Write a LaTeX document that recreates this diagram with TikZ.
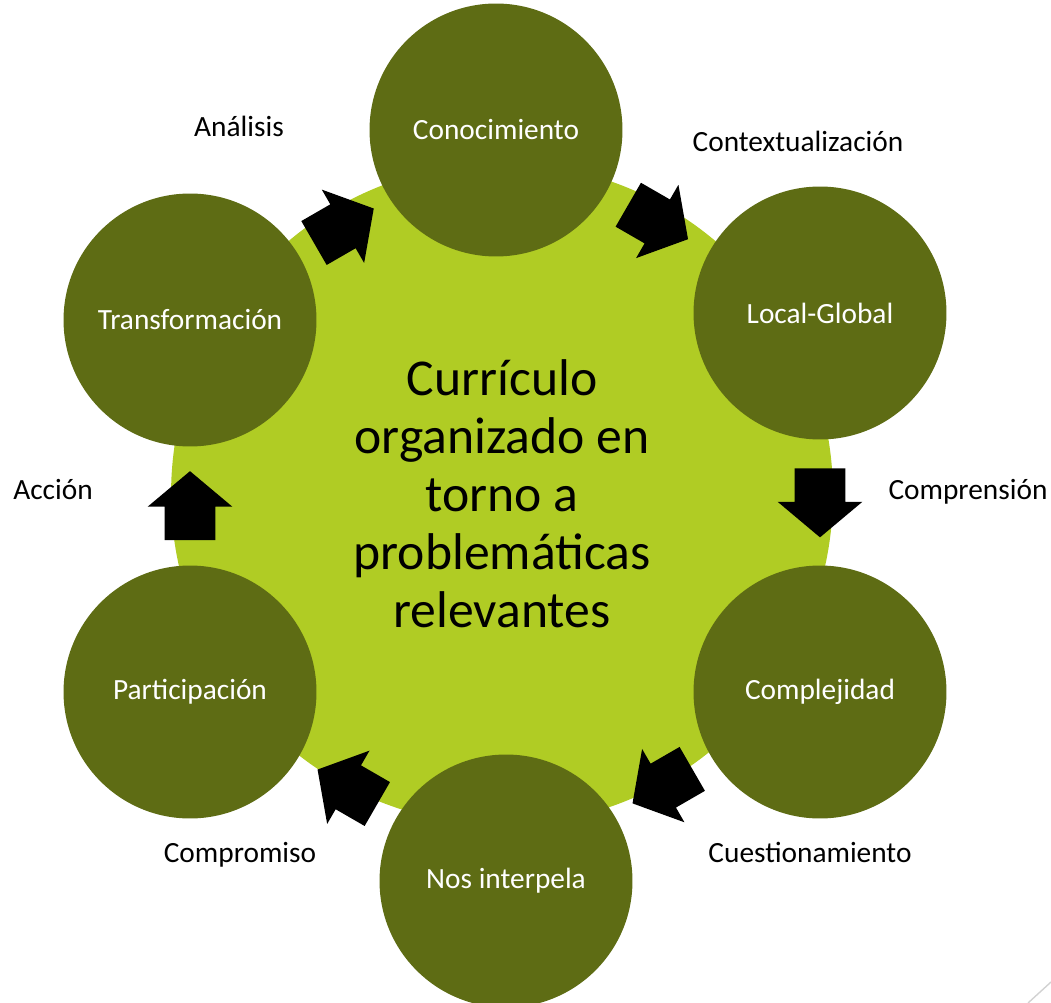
\documentclass[tikz,border=0pt]{standalone}
\usepackage{fontspec}
\setmainfont{Carlito}
\usetikzlibrary{shapes.arrows,calc}
\definecolor{lima}{RGB}{176,204,36}
\definecolor{oliva}{RGB}{94,108,20}
\newcommand{\tamano}{\fontsize{16.7}{20}\selectfont}

\begin{document}
\begin{tikzpicture}[x=0.02cm,y=-0.02cm,
  etapa/.style={circle,fill=oliva,text=white,minimum size=5.06cm,inner sep=0pt,font=\tamano},
  rotulo/.style={font=\tamano,text height=1.5ex,text depth=.25ex,inner sep=0pt},
  flecha/.style={single arrow,fill=black,inner xsep=0pt,inner ysep=0.5cm,
    minimum height=1.38cm,single arrow head extend=0.34cm,single arrow tip angle=100}]
  \useasboundingbox (0,0) rectangle (1051,1003);
  \clip (0,0) rectangle (1051,1003);
  % circulo central
  \node[circle,fill=lima,minimum size=13.24cm,inner sep=0pt,align=center,
        font=\fontsize{29.4}{33}\selectfont] (curriculo) at (502,494)
        {Currículo\\organizado en\\torno a\\problemáticas\\relevantes};
  % etapas
  \node[etapa] (con) at (496,130) {Conocimiento};
  \node[etapa] (loc) at (820,313) {Local-Global};
  \node[etapa] (com) at (820,692) {Complejidad};
  \node[etapa] (nos) at (506,881) {Nos interpela};
  \node[etapa] (par) at (190,692) {Participación};
  \node[etapa] (tra) at (190,320) {Transformación};
  % flechas entre etapas
  \foreach \a/\b/\ang in {con/loc/-30, loc/com/-90, com/nos/-150,
                          nos/par/150, par/tra/90, tra/con/30}
    \node[flecha,rotate=\ang,anchor=tail] (f-\a) at ($($(\a)!0.5!(\b)$)!0.69cm!(\a)$) {};
  % rotulos
  \node[rotulo] (ana) at (239,131) {Análisis};
  \node[rotulo] (cont) at (798,146) {Contextualización};
  \node[rotulo] (compr) at (968,494) {Comprensión};
  \node[rotulo] (cues) at (810,857) {Cuestionamiento};
  \node[rotulo] (compro) at (240,857) {Compromiso};
  \node[rotulo] (acc) at (53,494) {Acción};
  \draw[gray!35,line width=0.8pt] (1028,1003) -- (1051,982);
\end{tikzpicture}
\end{document}
